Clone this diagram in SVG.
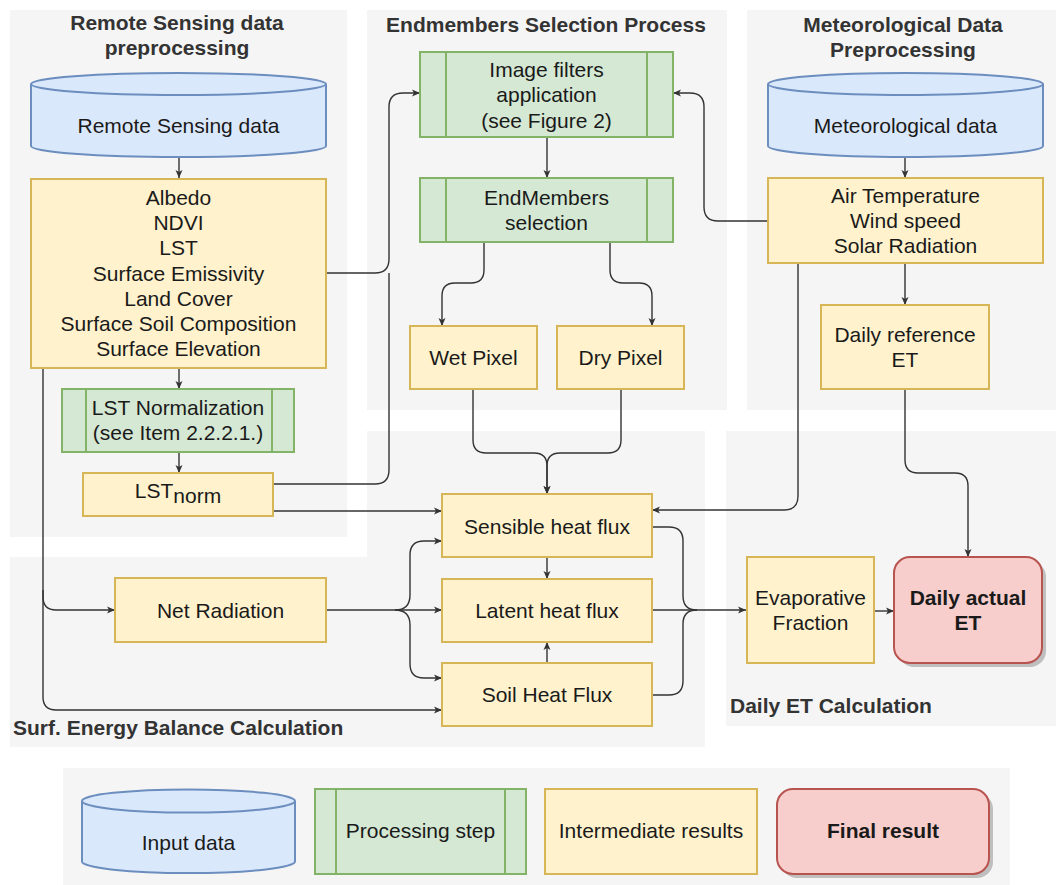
<svg xmlns="http://www.w3.org/2000/svg" width="1056" height="885" viewBox="0 0 1056 885">
<style>
text{font-family:"Liberation Sans",Arial,sans-serif;font-size:21px;fill:#1a1a1a;text-anchor:middle}
.title{font-weight:bold;fill:#333333}
.left{text-anchor:start}
.bold{font-weight:bold}
.panel{fill:#f5f5f5;stroke:none}
.inp{fill:#dae8fc;stroke:#6c8ebf;stroke-width:2}
.proc{fill:#d5e8d4;stroke:#82b366;stroke-width:2}
.mid{fill:#fff2cc;stroke:#d6b656;stroke-width:2}
.fin{fill:#f8cecc;stroke:#b85450;stroke-width:2}
.ln{fill:none;stroke:#82b366;stroke-width:2}
.cn{fill:none;stroke:#333333;stroke-width:1.4}
.arr{marker-end:url(#ah)}
</style>
<defs>
<marker id="ah" markerWidth="10" markerHeight="8" refX="8" refY="4" orient="auto" markerUnits="userSpaceOnUse">
<path d="M0,0.5 L8,4 L0,7.5 L2,4 Z" fill="#333333"/>
</marker>
</defs>

<g id="panels">
<rect class="panel" x="10" y="10" width="337" height="527"/>
<rect class="panel" x="367" y="10" width="360" height="400"/>
<rect class="panel" x="747" y="10" width="309" height="400"/>
<rect class="panel" x="367" y="431" width="338" height="316"/>
<rect class="panel" x="10" y="557" width="695" height="190"/>
<rect class="panel" x="726" y="431" width="330" height="295"/>
<rect class="panel" x="63" y="768" width="947" height="117"/>
<text class="title" x="177" y="30">Remote Sensing data</text>
<text class="title" x="177" y="55">preprocessing</text>
<text class="title" x="546" y="32">Endmembers Selection Process</text>
<text class="title" x="903" y="32">Meteorological Data</text>
<text class="title" x="903" y="57">Preprocessing</text>
<text class="title left" x="13" y="735">Surf. Energy Balance Calculation</text>
<text class="title left" x="730" y="713">Daily ET Calculation</text>
</g>

<g id="connectors">
<path class="cn arr" d="M179,157 V178"/>
<path class="cn arr" d="M179,368 V389"/>
<path class="cn arr" d="M179,452 V473"/>
<path class="cn arr" d="M326,273 H375 Q389,273 389,259 V107 Q389,93 403,93 H420"/>
<path class="cn" d="M273,484 H375 Q389,484 389,470 V273"/>
<path class="cn arr" d="M273,511 H442"/>
<path class="cn arr" d="M43,368 V597 Q43,610 56,610 H115"/>
<path class="cn arr" d="M43,590 V697 Q43,710 56,710 H442"/>
<path class="cn arr" d="M547,137 V178"/>
<path class="cn arr" d="M484,242 V270 Q484,283 471,283 H455 Q442,283 442,296 V326"/>
<path class="cn arr" d="M610,242 V270 Q610,283 623,283 H639 Q652,283 652,296 V326"/>
<path class="cn arr" d="M473,389 V440 Q473,453 486,453 H534 Q547,453 547,466 V494"/>
<path class="cn arr" d="M621,389 V440 Q621,453 608,453 H560 Q547,453 547,466 V494"/>
<path class="cn arr" d="M547,557 V579"/>
<path class="cn arr" d="M547,663 V642"/>
<path class="cn arr" d="M326,610 H442"/>
<path class="cn arr" d="M395,610 Q410,610 410,595 V555 Q410,541 424,541 H442"/>
<path class="cn arr" d="M395,610 Q410,610 410,625 V664 Q410,678 424,678 H442"/>
<path class="cn" d="M652,527 H669 Q683,527 683,541 V596 Q683,610 697,610"/>
<path class="cn arr" d="M652,610 H746"/>
<path class="cn" d="M652,695 H669 Q683,695 683,681 V624 Q683,610 697,610"/>
<path class="cn arr" d="M874,611 H894"/>
<path class="cn arr" d="M905,157 V178"/>
<path class="cn arr" d="M905,263 V305"/>
<path class="cn arr" d="M905,389 V460 Q905,473 918,473 H955 Q968,473 968,486 V557"/>
<path class="cn arr" d="M768,221 H718 Q704,221 704,207 V107 Q704,93 690,93 H673"/>
<path class="cn arr" d="M798,263 V496 Q798,510 784,510 H652"/>
</g>

<g id="rs-data">
<path class="inp" d="M31,84 A147.5,11 0 0 1 326,84 V146 A147.5,11 0 0 1 31,146 Z"/>
<path class="inp" d="M31,84 A147.5,11 0 0 0 326,84" fill="none"/>
<text x="178.5" y="133">Remote Sensing data</text>
</g>

<g id="rs-products">
<rect class="mid" x="31" y="179" width="295" height="189"/>
<text x="178.5" y="205">Albedo</text>
<text x="178.5" y="230">NDVI</text>
<text x="178.5" y="255">LST</text>
<text x="178.5" y="281">Surface Emissivity</text>
<text x="178.5" y="306">Land Cover</text>
<text x="178.5" y="331">Surface Soil Composition</text>
<text x="178.5" y="356">Surface Elevation</text>
</g>

<g id="lst-normalization">
<rect class="proc" x="62" y="389" width="232" height="63"/>
<path class="ln" d="M86,389 V452 M272,389 V452"/>
<text x="178" y="415">LST Normalization</text>
<text x="178" y="440">(see Item 2.2.2.1.)</text>
</g>

<g id="lst-norm">
<rect class="mid" x="83" y="473" width="190" height="43"/>
<text x="178" y="498">LST<tspan dy="5">norm</tspan></text>
</g>

<g id="image-filters">
<rect class="proc" x="420" y="52" width="253" height="85"/>
<path class="ln" d="M446,52 V137 M647,52 V137"/>
<text x="546.5" y="77">Image filters</text>
<text x="546.5" y="102">application</text>
<text x="546.5" y="128">(see Figure 2)</text>
</g>

<g id="endmembers">
<rect class="proc" x="420" y="178" width="253" height="64"/>
<path class="ln" d="M446,178 V242 M647,178 V242"/>
<text x="546.5" y="205">EndMembers</text>
<text x="546.5" y="230">selection</text>
</g>

<g id="wet-pixel">
<rect class="mid" x="410" y="326" width="127" height="63"/>
<text x="473.5" y="365">Wet Pixel</text>
</g>

<g id="dry-pixel">
<rect class="mid" x="557" y="326" width="127" height="63"/>
<text x="620.5" y="365">Dry Pixel</text>
</g>

<g id="met-data">
<path class="inp" d="M768,84 A137.5,11 0 0 1 1043,84 V146 A137.5,11 0 0 1 768,146 Z"/>
<path class="inp" d="M768,84 A137.5,11 0 0 0 1043,84" fill="none"/>
<text x="905.5" y="133">Meteorological data</text>
</g>

<g id="met-products">
<rect class="mid" x="768" y="178" width="275" height="85"/>
<text x="905.5" y="203">Air Temperature</text>
<text x="905.5" y="228">Wind speed</text>
<text x="905.5" y="253">Solar Radiation</text>
</g>

<g id="daily-ref-et">
<rect class="mid" x="821" y="305" width="168" height="84"/>
<text x="905" y="342">Daily reference</text>
<text x="905" y="367">ET</text>
</g>

<g id="sensible">
<rect class="mid" x="442" y="494" width="210" height="63"/>
<text x="547" y="534">Sensible heat flux</text>
</g>

<g id="latent">
<rect class="mid" x="442" y="579" width="210" height="63"/>
<text x="547" y="618">Latent heat flux</text>
</g>

<g id="soil">
<rect class="mid" x="442" y="663" width="210" height="63"/>
<text x="547" y="702">Soil Heat Flux</text>
</g>

<g id="net-radiation">
<rect class="mid" x="115" y="578" width="211" height="64"/>
<text x="220.5" y="618">Net Radiation</text>
</g>

<g id="evaporative-fraction">
<rect class="mid" x="747" y="557" width="127" height="106"/>
<text x="810.5" y="605">Evaporative</text>
<text x="810.5" y="630">Fraction</text>
</g>

<g id="daily-actual-et">
<rect x="898" y="561" width="148" height="106" rx="16" fill="#000000" opacity="0.22"/>
<rect class="fin" x="894" y="557" width="148" height="106" rx="16"/>
<text class="bold" x="968" y="605">Daily actual</text>
<text class="bold" x="968" y="630">ET</text>
</g>

<g id="legend">
<path class="inp" d="M82,801 A106.5,11.5 0 0 1 295,801 V861.5 A106.5,11.5 0 0 1 82,861.5 Z"/>
<path class="inp" d="M82,801 A106.5,11.5 0 0 0 295,801" fill="none"/>
<text x="188.5" y="850">Input data</text>
<rect class="proc" x="315" y="789" width="211" height="85"/>
<path class="ln" d="M336,789 V874 M505,789 V874"/>
<text x="420.5" y="838">Processing step</text>
<rect class="mid" x="545" y="789" width="212" height="85"/>
<text x="651" y="838">Intermediate results</text>
<rect x="781" y="793" width="212" height="85" rx="16" fill="#000000" opacity="0.22"/>
<rect class="fin" x="777" y="789" width="212" height="85" rx="16"/>
<text class="bold" x="883" y="838">Final result</text>
</g>
</svg>
